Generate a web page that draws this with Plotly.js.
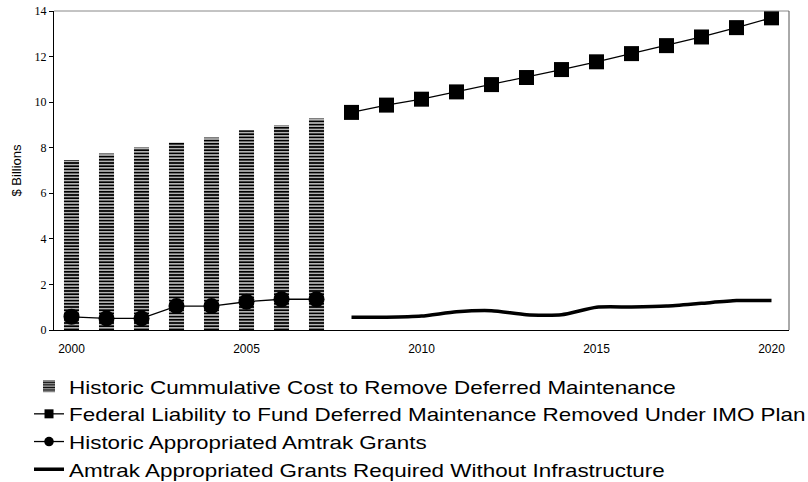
<!DOCTYPE html>
<html><head><meta charset="utf-8">
<script src="https://cdn.plot.ly/plotly-3.0.1.min.js"></script>
<style>body{margin:0;background:#fff}#c{width:808px;height:482px}</style>
</head><body><div id="c"></div>
<script>
const histYears = [2000,2001,2002,2003,2004,2005,2006,2007];
const histCumulativeCost = [7.46,7.75,8.01,8.23,8.45,8.77,8.99,9.28];
const histGrants = [0.58,0.51,0.51,1.05,1.05,1.24,1.35,1.35];
const planYears = [2008,2009,2010,2011,2012,2013,2014,2015,2016,2017,2018,2019,2020];
const federalLiability = [9.55,9.87,10.13,10.45,10.77,11.08,11.43,11.77,12.13,12.48,12.86,13.27,13.7];
const grantsRequired = [0.56,0.56,0.61,0.80,0.85,0.67,0.67,1.00,1.01,1.05,1.17,1.29,1.29];
const xTicks = [2000,2005,2010,2015,2020];
const yTicks = [0,2,4,6,8,10,12,14];

const traces = [
  {type:'bar', x:histYears, y:histCumulativeCost, name:'Historic Cummulative Cost to Remove Deferred Maintenance',
   width:0.43, marker:{color:'#fff', line:{width:0}, pattern:{shape:'-', size:3.2, solidity:0.65, fgcolor:'#000', bgcolor:'#fff'}}},
  {type:'scatter', mode:'lines+markers', x:planYears, y:federalLiability, name:'Federal Liability to Fund Deferred Maintenance Removed Under IMO Plan',
   line:{color:'#000', width:1.3}, marker:{symbol:'square', size:15, color:'#000'}},
  {type:'scatter', mode:'lines+markers', x:histYears, y:histGrants, name:'Historic Appropriated Amtrak Grants',
   line:{color:'#000', width:1.3}, marker:{symbol:'circle', size:16, color:'#000'}},
  {type:'scatter', mode:'lines', x:planYears, y:grantsRequired, name:'Amtrak Appropriated Grants Required Without Infrastructure',
   line:{color:'#000', width:3.5, shape:'spline', smoothing:0.6}}
];

const layout = {
  width:808, height:482,
  margin:{l:54, r:19, t:11, b:152},
  paper_bgcolor:'#fff', plot_bgcolor:'#fff',
  showlegend:true,
  xaxis:{range:[1999.5,2020.5], tickmode:'array', tickvals:xTicks, ticktext:xTicks.map(String),
    showgrid:false, zeroline:false, showline:true, linecolor:'#000', linewidth:1, mirror:false,
    ticks:'', ticklabelstandoff:8, tickfont:{family:'Liberation Sans, Arial, sans-serif', size:12, color:'#000'}},
  yaxis:{range:[0,14], tickmode:'array', tickvals:yTicks, showgrid:false, zeroline:false,
    showline:true, linecolor:'#000', linewidth:1, ticks:'outside', ticklen:4, tickcolor:'#000',
    tickfont:{family:'Liberation Serif, Times New Roman, serif', size:12, color:'#000'},
    title:{text:'$ Billions', font:{family:'Liberation Sans, Arial, sans-serif', size:13, color:'#000'}, standoff:10}},
  shapes:[
    {type:'line', xref:'paper', yref:'paper', x0:0, x1:1, y0:1, y1:1, line:{color:'#888', width:1}},
    {type:'line', xref:'paper', yref:'paper', x0:1, x1:1, y0:0, y1:1, line:{color:'#555', width:1}}
  ],
  legend:{orientation:'v', xref:'paper', x:-0.034, xanchor:'left', yref:'container', y:0.238, yanchor:'top',
    font:{family:'Liberation Sans, Arial, sans-serif', size:19, color:'#000'},
    bgcolor:'rgba(0,0,0,0)', itemwidth:30, tracegroupgap:0, traceorder:'normal'}
};
Plotly.newPlot('c', traces, layout, {displayModeBar:false, staticPlot:true}).then(function(gd){
  // the reference's legend lettering is horizontally wider than its height suggests
  gd.querySelectorAll('.legend [clip-path]').forEach(function(el){ el.removeAttribute('clip-path'); });
  gd.querySelectorAll('.legendtext').forEach(function(t){
    const w = t.getComputedTextLength();
    t.setAttribute('textLength', (w*1.18).toFixed(1));
    t.setAttribute('lengthAdjust', 'spacingAndGlyphs');
  });
  // smaller legend markers, as in the reference key
  gd.querySelectorAll('.legend .legendpoints path.scatterpts').forEach(function(p){
    const tr = p.getAttribute('transform') || '';
    p.setAttribute('transform', tr + ' scale(0.6)');
  });
});
</script></body></html>
